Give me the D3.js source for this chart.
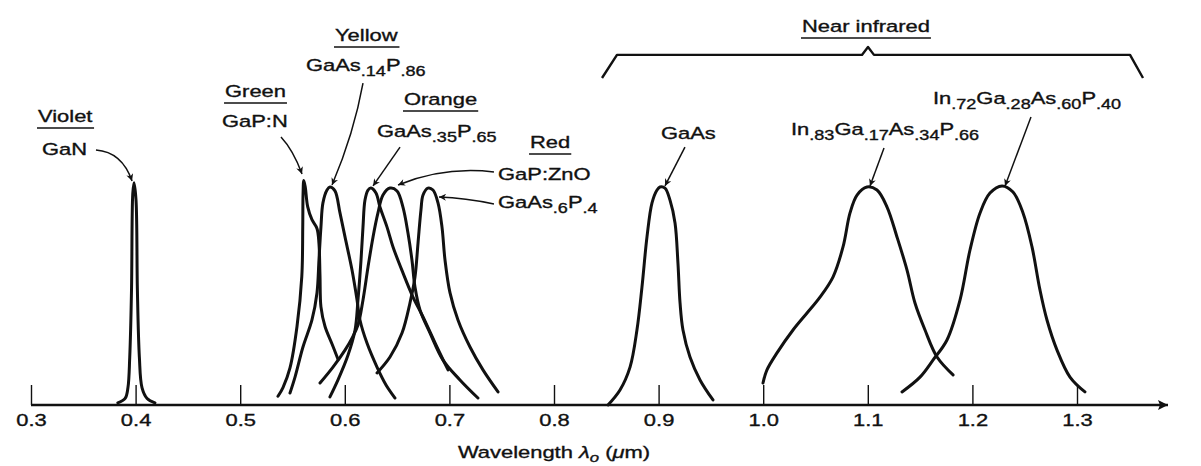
<!DOCTYPE html>
<html>
<head>
<meta charset="utf-8">
<script src="https://cdn.jsdelivr.net/npm/d3@7"></script>
<style>
  body { margin: 0; background: #fff; }
  svg { display: block; font-family: "Liberation Sans", Arial, sans-serif; }
  text { stroke: #111; stroke-width: 0.35px; }
</style>
</head>
<body>
<svg id="chart" width="1201" height="466"></svg>
<script>
// LED emission spectra: [wavelength (um), relative intensity]
const ganViolet = [[0.383,0.01],[0.390,0.03],[0.3927,0.08],[0.3944,0.22],[0.3961,0.53],[0.3973,0.97],[0.3985,1.02],
    [0.4004,0.94],[0.4017,0.53],[0.4036,0.22],[0.4061,0.08],[0.411,0.03],[0.4185,0.01]];
const gapnGreen = [[0.5361,0.04],[0.5409,0.08],[0.5476,0.17],[0.5543,0.36],[0.5589,0.59],[0.5598,0.82],[0.5601,0.97],
    [0.5608,1.03],[0.5622,1.0],[0.5645,0.91],[0.5686,0.85],[0.5734,0.81],[0.5753,0.74],[0.5763,0.59],[0.5772,0.45],
    [0.5811,0.36],[0.5878,0.28],[0.5935,0.21]];
const gaasp14Yellow = [[0.5476,0.055],[0.5524,0.128],[0.5600,0.266],[0.5686,0.39],[0.5734,0.514],[0.5753,0.665],
    [0.5772,0.817],[0.5791,0.927],[0.5830,0.986],[0.5858,1.0],[0.5906,0.982],[0.5954,0.881],[0.6002,0.771],
    [0.6069,0.619],[0.6117,0.482],[0.6145,0.39],[0.6212,0.284],[0.6308,0.174],[0.6394,0.092],[0.6480,0.032]];
const gaasp35Orange = [[0.5858,0.037],[0.5935,0.115],[0.6031,0.229],[0.6098,0.344],[0.6126,0.482],[0.6155,0.665],
    [0.6174,0.817],[0.6193,0.94],[0.6222,0.986],[0.6250,0.995],[0.6298,0.972],[0.6336,0.908],[0.6403,0.817],
    [0.6461,0.725],[0.6556,0.606],[0.6652,0.495],[0.6748,0.404],[0.6881,0.266],[0.6987,0.161]];
const gapznoRed = [[0.5763,0.101],[0.5887,0.174],[0.6002,0.252],[0.6069,0.307],[0.6126,0.367],[0.6174,0.482],
    [0.6222,0.633],[0.6270,0.771],[0.6317,0.881],[0.6365,0.963],[0.6432,0.995],[0.6499,0.982],[0.6556,0.908],
    [0.6604,0.789],[0.6642,0.665],[0.6671,0.541],[0.6719,0.436],[0.6815,0.33],[0.6939,0.206],[0.7101,0.115],[0.7273,0.032]];
const gaasp6Red = [[0.6308,0.147],[0.6432,0.22],[0.6547,0.33],[0.6623,0.468],[0.6671,0.587],[0.6700,0.743],
    [0.6728,0.894],[0.6748,0.963],[0.6795,0.995],[0.6843,0.986],[0.6891,0.927],[0.6929,0.817],[0.6958,0.665],
    [0.7006,0.514],[0.7082,0.39],[0.7197,0.266],[0.7321,0.161],[0.7465,0.06]];
const gaasIR = [[0.8516,0.0],[0.8631,0.069],[0.8727,0.174],[0.8793,0.344],[0.8841,0.541],[0.8889,0.771],[0.8937,0.927],
    [0.8985,0.986],[0.9013,1.0],[0.9061,0.995],[0.9109,0.94],[0.9157,0.835],[0.9185,0.651],[0.9205,0.468],
    [0.9233,0.344],[0.9300,0.22],[0.9396,0.115],[0.9520,0.023]];
const ingaasp83IR = [[0.9998,0.101],[1.0036,0.161],[1.0132,0.239],[1.0285,0.344],[1.0419,0.422],[1.0543,0.495],
    [1.0667,0.587],[1.0763,0.725],[1.0830,0.881],[1.0897,0.963],[1.0992,1.0],[1.1088,0.986],[1.1184,0.908],
    [1.1279,0.771],[1.1375,0.619],[1.1451,0.468],[1.1547,0.344],[1.1662,0.22],[1.1815,0.138]];
const ingaasp72IR = [[1.1327,0.06],[1.1499,0.128],[1.1623,0.206],[1.1757,0.298],[1.1882,0.482],[1.1977,0.711],
    [1.2073,0.881],[1.2168,0.972],[1.2283,1.005],[1.2388,0.977],[1.2484,0.881],[1.2570,0.725],[1.2646,0.528],
    [1.2713,0.39],[1.2809,0.252],[1.2933,0.128],[1.3076,0.06]];

const series = [ganViolet, gapnGreen, gaasp14Yellow, gaasp35Orange, gapznoRed, gaasp6Red, gaasIR, ingaasp83IR, ingaasp72IR];
const tickValues = [0.3, 0.4, 0.5, 0.6, 0.7, 0.8, 0.9, 1.0, 1.1, 1.2, 1.3];

// text labels, placed in data units [wavelength, intensity]; _{..} = subscript
const labels = [
    {text: 'Violet', at: [0.3067, 1.298], underline: true},
    {text: 'GaN', at: [0.3105, 1.147]},
    {text: 'Green', at: [0.4855, 1.413], underline: true},
    {text: 'GaP:N', at: [0.4826, 1.275]},
    {text: 'Yellow', at: [0.5906, 1.670], underline: true},
    {text: 'GaAs_{.14}P_{.86}', at: [0.5629, 1.532]},
    {text: 'Orange', at: [0.6566, 1.376], underline: true},
    {text: 'GaAs_{.35}P_{.65}', at: [0.6308, 1.229]},
    {text: 'Red', at: [0.7771, 1.179], underline: true},
    {text: 'GaP:ZnO', at: [0.7465, 1.032]},
    {text: 'GaAs_{.6}P_{.4}', at: [0.7465, 0.904]},
    {text: 'Near infrared', at: [1.0371, 1.711], underline: true},
    {text: 'GaAs', at: [0.9023, 1.220]},
    {text: 'In_{.83}Ga_{.17}As_{.34}P_{.66}', at: [1.0266, 1.239]},
    {text: 'In_{.72}Ga_{.28}As_{.60}P_{.40}', at: [1.1623, 1.381]}
];

// pointer arrows: start, bend control (or null), tip
const arrows = [
    [[0.3621, 1.170], [0.3870, 1.161], [0.3966, 1.028]],
    [[0.5390, 1.229], [0.5505, 1.170], [0.5591, 1.060]],
    [[0.6174, 1.477], [0.6088, 1.248], [0.5878, 1.009]],
    [[0.6528, 1.183], null, [0.6270, 1.005]],
    [[0.7426, 1.069], [0.6948, 1.096], [0.6509, 1.009]],
    [[0.7426, 0.922], [0.7149, 0.950], [0.6901, 0.954]],
    [[0.9252, 1.183], null, [0.9061, 1.005]],
    [[1.1155, 1.179], null, [1.1021, 1.005]],
    [[1.2560, 1.321], null, [1.2312, 1.005]]
];

// "near infrared" brace
const brace = [[0.8459, 1.50], [0.8602, 1.606], [1.0944, 1.606], [1.1002, 1.642], [1.1059, 1.606], [1.3507, 1.606], [1.3631, 1.50]];

////////////////////////////////////////////////////////
const svg = d3.select('#chart');
const SX = 1.29; // the scanned figure is stretched sideways

const x = d3.scaleLinear().domain([0.3, 1.3]).range([31, 1077]);
const y = d3.scaleLinear().domain([0, 1]).range([405, 187]);

const defs = svg.append('defs');
defs.append('marker')
    .attr('id', 'head').attr('viewBox', '0 0 10 10')
    .attr('refX', 10).attr('refY', 5)
    .attr('markerWidth', 10).attr('markerHeight', 7)
    .attr('markerUnits', 'userSpaceOnUse')
    .attr('orient', 'auto')
    .append('path').attr('d', 'M0,0 L10,5 L0,10 L3,5 Z').attr('fill', '#111');
defs.append('marker')
    .attr('id', 'axishead').attr('viewBox', '0 0 10 10')
    .attr('refX', 10).attr('refY', 5)
    .attr('markerWidth', 16).attr('markerHeight', 10)
    .attr('markerUnits', 'userSpaceOnUse')
    .attr('orient', 'auto')
    .append('path').attr('d', 'M0,0 L10,5 L0,10 L2,5 Z').attr('fill', '#111');

// axis
const axis = svg.append('g')
    .attr('transform', 'translate(0,' + y(0) + ')')
    .call(d3.axisBottom(x).tickValues(tickValues).tickFormat(d3.format('.1f'))
        .tickSizeInner(-20).tickSizeOuter(0).tickPadding(9));
axis.select('.domain').remove();
axis.selectAll('.tick line').attr('stroke', '#111').attr('stroke-width', 1.4);
axis.selectAll('.tick text')
    .attr('font-size', 17).attr('fill', '#111')
    .attr('font-family', '"Liberation Sans", Arial, sans-serif')
    .attr('transform', 'scale(' + SX + ',1)');

svg.append('line')
    .attr('x1', x(0.3)).attr('x2', x(1.387))
    .attr('y1', y(0)).attr('y2', y(0))
    .attr('stroke', '#111').attr('stroke-width', 2.4)
    .attr('marker-end', 'url(#axishead)');

// spectra
const line = d3.line()
    .x(d => x(d[0]))
    .y(d => y(d[1]))
    .curve(d3.curveCatmullRom.alpha(0.5));

svg.append('g').selectAll('path')
    .data(series)
    .enter().append('path')
    .attr('d', line)
    .attr('fill', 'none')
    .attr('stroke', '#111')
    .attr('stroke-width', 3)
    .attr('stroke-linejoin', 'round')
    .attr('stroke-linecap', 'round');

// brace
svg.append('path')
    .attr('d', d3.line().x(d => x(d[0])).y(d => y(d[1]))(brace))
    .attr('fill', 'none').attr('stroke', '#111').attr('stroke-width', 2.4)
    .attr('stroke-linejoin', 'round');

// arrows
svg.append('g').selectAll('path')
    .data(arrows)
    .enter().append('path')
    .attr('d', d => {
        const s = d[0], c = d[1], t = d[2];
        if (c) return 'M' + x(s[0]) + ',' + y(s[1]) + ' Q' + x(c[0]) + ',' + y(c[1]) + ' ' + x(t[0]) + ',' + y(t[1]);
        return 'M' + x(s[0]) + ',' + y(s[1]) + ' L' + x(t[0]) + ',' + y(t[1]);
    })
    .attr('fill', 'none').attr('stroke', '#111').attr('stroke-width', 1.5)
    .attr('marker-end', 'url(#head)');

// labels
function richText(g, str, size) {
    const t = g.append('text').attr('font-size', size).attr('fill', '#111');
    let shift = 0;
    str.split(/(_\{[^}]*\})/).filter(s => s).forEach(s => {
        const sub = s.startsWith('_{');
        const dy = (sub ? 5 : 0) - shift;
        shift = sub ? 5 : 0;
        t.append('tspan').attr('dy', dy).attr('font-size', sub ? 14 : size).text(sub ? s.slice(2, -1) : s);
    });
    return t;
}

labels.forEach(l => {
    const g = svg.append('g').attr('transform', 'translate(' + x(l.at[0]) + ',' + y(l.at[1]) + ')');
    const inner = g.append('g').attr('transform', 'scale(' + SX + ',1)');
    const t = richText(inner, l.text, 17);
    if (l.underline) {
        const w = t.node().getBBox().width * SX;
        g.append('line')
            .attr('x1', -1).attr('x2', w + 1)
            .attr('y1', 6).attr('y2', 6)
            .attr('stroke', '#111').attr('stroke-width', 1.6);
    }
});

// axis title
const title = svg.append('g')
    .attr('transform', 'translate(' + ((x(0.3) + x(1.3)) / 2) + ',458) scale(' + SX + ',1)')
    .append('text')
    .attr('font-size', 17).attr('fill', '#111').attr('text-anchor', 'middle');
title.append('tspan').text('Wavelength ');
title.append('tspan').attr('font-style', 'italic').text('λ');
title.append('tspan').attr('font-style', 'italic').attr('font-size', 13).attr('dy', 4).text('o');
title.append('tspan').attr('dy', -4).text(' (');
title.append('tspan').attr('font-style', 'italic').text('μ');
title.append('tspan').text('m)');
</script>
</body>
</html>
